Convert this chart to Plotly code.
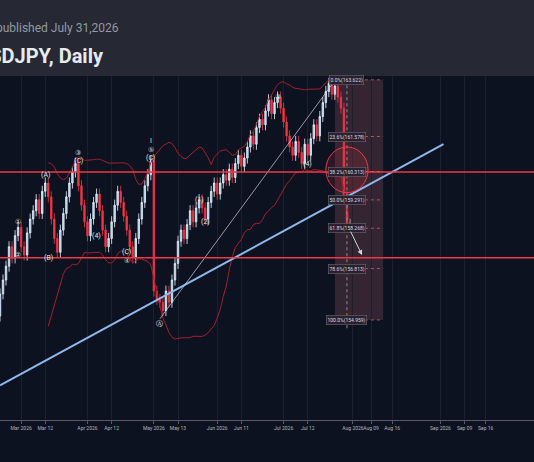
import pandas as pd
import plotly.graph_objects as go

# Daily closes (business days from Feb 16 2026)
closes = [155.2, 155.6, 155.1, 155.9, 156.4,
          156.9, 157.6, 157.2, 158.0, 158.3,
          157.6, 157.3, 158.1, 158.6, 158.9,
          159.3, 158.8, 159.6, 159.9, 159.4,
          158.6, 157.9, 157.4, 158.2, 158.8,
          159.4, 159.9, 160.3, 160.6, 159.8,
          159.1, 158.5, 158.0, 158.6, 159.2,
          159.5, 158.9, 158.2, 157.6, 157.9,
          158.5, 159.1, 159.6, 159.2, 158.7,
          158.2, 157.6, 157.2, 157.9, 158.6,
          159.2, 159.8, 160.2, 160.7, 156.0,
          155.7, 155.6, 155.3, 156.0, 155.6,
          156.4, 157.0, 157.8, 158.2, 157.9,
          158.4, 158.9, 158.5, 159.0, 159.3,
          159.0, 158.6, 159.2, 159.6, 159.9,
          159.5, 159.9, 160.2, 160.0, 160.4,
          160.1, 160.6, 160.9, 160.5, 160.8,
          161.2, 161.6, 161.3, 161.9, 162.2,
          162.0, 162.5, 162.9, 162.4, 162.8,
          163.0, 162.6, 162.1, 161.6, 161.2,
          160.9, 161.4, 161.0, 160.6, 161.3,
          160.9, 161.5, 162.0, 161.6, 162.3,
          162.8, 163.2, 163.5, 163.1, 163.4,
          163.0, 162.6, 159.4, 158.3, 158.4]
dates = pd.bdate_range("2026-02-16", periods=len(closes))

# Chart levels
res_lines = [160.3, 157.2]
trend_x = ["2026-02-19", "2026-09-02"]
trend_y = [152.6, 161.3]
wave_x = ["2026-05-05", "2026-07-24"]
wave_y = [155.0, 163.6]
fib_pct = [0.0, 23.6, 38.2, 50.0, 61.8, 78.6, 100.0]
fib_hi, fib_lo = 163.622, 154.959
wave_labels = [("2026-02-27", 158.5, "①"), ("2026-02-27", 157.3, "②"),
               ("2026-03-12", 160.2, "(A)"), ("2026-03-13", 157.2, "(B)"),
               ("2026-03-27", 161.0, "③"), ("2026-03-27", 160.7, "(C)"),
               ("2026-04-06", 158.0, "(4)"), ("2026-04-20", 157.4, "(C)"),
               ("2026-04-20", 157.1, "④"), ("2026-04-30", 161.4, "ⅰ"),
               ("2026-04-30", 161.1, "⑤"), ("2026-04-30", 160.8, "(C)"),
               ("2026-05-05", 154.8, "Ⓐ"), ("2026-05-22", 159.3, "(1)"),
               ("2026-05-26", 158.5, "(2)"), ("2026-06-29", 163.0, "③"),
               ("2026-07-13", 160.6, "(4)"), ("2026-07-24", 163.8, "⑤")]

df = pd.DataFrame({"date": dates, "close": closes})
df["open"] = df["close"].shift(1).fillna(155.0)
df["high"] = df[["open", "close"]].max(axis=1) + 0.2
df["low"] = df[["open", "close"]].min(axis=1) - 0.2
mid = df["close"].rolling(20).mean()
sd = df["close"].rolling(20).std()

# past weekends are skipped (bar spacing), the future area keeps calendar days
all_days = pd.date_range("2026-02-14", "2026-08-02")
weekends = [d.strftime("%Y-%m-%d") for d in all_days if d.weekday() >= 5]

fig = go.Figure()
fig.add_trace(go.Candlestick(
    x=df["date"], open=df["open"], high=df["high"], low=df["low"], close=df["close"],
    increasing=dict(line=dict(color="#e8f4ff", width=0.8), fillcolor="#9fd0ee"),
    decreasing=dict(line=dict(color="#f23645", width=0.8), fillcolor="#f23645"),
    showlegend=False, hoverinfo="skip"))
for band in [mid + 2 * sd, mid - 2 * sd]:
    fig.add_trace(go.Scatter(x=df["date"], y=band, mode="lines",
                             line=dict(color="#a3202b", width=1), showlegend=False))
fig.add_trace(go.Scatter(x=trend_x, y=trend_y, mode="lines",
                         line=dict(color="#8fb8ec", width=2), showlegend=False))
fig.add_trace(go.Scatter(x=wave_x, y=wave_y, mode="lines",
                         line=dict(color="#d0d4dc", width=0.7), showlegend=False))

for lv in res_lines:
    fig.add_hline(y=lv, line=dict(color="#f23645", width=1.5))

# Fib retracement box
fig.add_shape(type="rect", x0="2026-07-24", x1="2026-08-13", y0=fib_lo, y1=fib_hi,
              fillcolor="rgba(242,120,130,0.18)", line=dict(width=0), layer="below")
fig.add_shape(type="line", x0="2026-07-30", x1="2026-07-30", y0=fib_lo - 0.3, y1=fib_hi,
              line=dict(color="#8a8f9a", width=1, dash="dot"))
for p in fib_pct:
    lv = fib_hi - (fib_hi - fib_lo) * p / 100
    fig.add_shape(type="line", x0="2026-07-24", x1="2026-08-13", y0=lv, y1=lv,
                  line=dict(color="#c77", width=0.7, dash="dot"))
    fig.add_annotation(x="2026-07-30", y=lv, text=f"{p:.1f}%({lv:.3f})", showarrow=False,
                       xanchor="center", font=dict(size=5, color="#d8dbe2"),
                       bgcolor="#2a2030", bordercolor="#777", borderwidth=0.5, borderpad=1)
fig.add_shape(type="circle", x0="2026-07-21", x1="2026-08-08", y0=159.55, y1=161.2,
              line=dict(color="#f23645", width=1), fillcolor="rgba(242,54,69,0.15)")
fig.add_annotation(x="2026-08-06", y=157.3, ax="2026-07-31", ay=158.2,
                   xref="x", yref="y", axref="x", ayref="y", text="", showarrow=True,
                   arrowhead=2, arrowsize=1, arrowwidth=1, arrowcolor="#d0d4dc")

for x, y, t in wave_labels:
    fig.add_annotation(x=x, y=y, text=t, showarrow=False, font=dict(size=7, color="#e0e3ea"))

# Header
fig.add_shape(type="rect", xref="paper", yref="paper", x0=0, x1=1, y0=1, y1=1.23,
              fillcolor="#262833", line=dict(width=0))
fig.add_annotation(xref="paper", yref="paper", x=0, y=1.165, text="published July 31,2026",
                   showarrow=False, xanchor="left", xshift=-6,
                   font=dict(size=12, color="#9598a1", family="Roboto"))
fig.add_annotation(xref="paper", yref="paper", x=0, y=1.1, text="<b>USDJPY, Daily</b>",
                   showarrow=False, xanchor="right", xshift=106,
                   font=dict(size=20, color="#e8eaf0", family="Roboto"))

# weekend tick dates sit on the next trading day (weekends are skipped)
ticks = ["2026-03-02", "2026-03-12", "2026-04-01", "2026-04-13", "2026-05-01", "2026-05-13",
         "2026-06-01", "2026-06-11", "2026-07-01", "2026-07-13", "2026-08-03", "2026-08-09",
         "2026-08-16", "2026-09-01", "2026-09-09", "2026-09-16"]
tick_text = ["Mar 2026", "Mar 12", "Apr 2026", "Apr 12", "May 2026", "May 13", "Jun 2026",
             "Jun 11", "Jul 2026", "Jul 12", "Aug 2026", "Aug 09", "Aug 16", "Sep 2026",
             "Sep 09", "Sep 16"]

fig.update_layout(
    width=534, height=462, margin=dict(l=0, r=0, t=76, b=42),
    paper_bgcolor="#0c1220", plot_bgcolor="#0c1220",
    font=dict(family="Roboto", color="#b2b5be"),
    xaxis=dict(range=["2026-02-19", "2026-10-02"], tickvals=ticks, ticktext=tick_text,
               rangebreaks=[dict(values=weekends)],
               tickfont=dict(size=5), tickangle=0, showgrid=True, gridcolor="#1a2030",
               rangeslider=dict(visible=False), showline=True, linecolor="#555a66",
               ticks="outside", tickcolor="#555a66", ticklen=3),
    yaxis=dict(range=[151.35, 163.76], showticklabels=False, showgrid=False, zeroline=False),
)

fig.write_html("out.html", config={"displayModeBar": False},
               post_script="document.body.style.margin='0';")
